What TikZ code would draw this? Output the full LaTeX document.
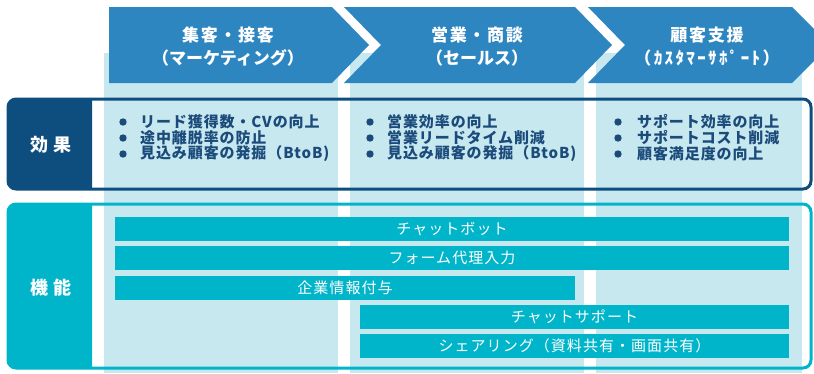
\documentclass[tikz,border=0pt]{standalone}
\usepackage{fontspec}
\usepackage{xcolor}
\newfontfamily\jp{Noto Sans CJK JP}

\definecolor{arrowblue}{HTML}{2E86C1}
\definecolor{colblue}{HTML}{C8E8F0}
\definecolor{navy}{HTML}{0E4E7E}
\definecolor{barteal}{HTML}{00B5C9}
\definecolor{textnavy}{HTML}{1B4B7A}

\begin{document}
\begin{tikzpicture}[x=1pt, y=-1pt,
    hdr/.style={text=white, align=center, inner sep=0,
      font=\jp\bfseries\fontsize{17}{23}\selectfont},
    lbl/.style={text=white, inner sep=0,
      font=\jp\bfseries\fontsize{18}{20}\selectfont},
    item/.style={anchor=west, text=textnavy, inner sep=0,
      font=\jp\bfseries\addfontfeatures{LetterSpace=6}\fontsize{15}{16}\selectfont},
    bar/.style={fill=barteal, text=white, minimum height=24, inner sep=0,
      font=\jp\addfontfeatures{LetterSpace=7}\fontsize{15}{16}\selectfont}]

   \useasboundingbox (0,0) rectangle (814,373);
   \clip (0,0) rectangle (814,373);

    % Light columns behind everything
    \fill[colblue] (104,53) rectangle (338,373);
    \fill[colblue] (350,53) rectangle (584,373);
    \fill[colblue] (596,53) rectangle (802,373);

    % Draw the process arrows
    \fill[arrowblue] (109,7) -- (332,7) -- (369,45) -- (332,83) -- (109,83) -- cycle;
    \fill[arrowblue] (344,7) -- (575,7) -- (612,45) -- (575,83) -- (344,83) -- (381,45) -- cycle;
    \fill[arrowblue] (588,7) -- (792,7) -- (830,45) -- (792,83) -- (588,83) -- (625,45) -- cycle;

    \node[hdr] (stageA) at (228,46.5) {{\addfontfeatures{LetterSpace=10}集客・接客}\\（マーケティング）};
    \node[hdr] (stageB) at (477,46.5) {{\addfontfeatures{LetterSpace=10}営業・商談}\\（セールス）};
    \node[hdr] (stageC) at (707,46.5) {{\addfontfeatures{LetterSpace=10}顧客支援}\\{\addfontfeatures{LetterSpace=14}（ｶｽﾀﾏｰｻﾎﾟｰﾄ）}};

    % Effect row
    \fill[navy] (92,99) {[rounded corners=8] -- (8,99) -- (8,189)} -- (92,189) -- cycle;
    \draw[navy, line width=3, rounded corners=8] (8,99) rectangle (811,189);
    \node[lbl] (effect) at (51,145) {効 果};

    \foreach \y in {122,138,154} {
      \fill[textnavy] (123,\y) circle (3.7);
      \fill[textnavy] (370,\y) circle (3.7);
      \fill[textnavy] (618,\y) circle (3.7);
    }
    \node[item] (effA1) at (140,122) {リード獲得数・CVの向上};
    \node[item] (effA2) at (140,138) {途中離脱率の防止};
    \node[item] (effA3) at (140,154) {見込み顧客の発掘（BtoB)};
    \node[item] (effB1) at (387,122) {営業効率の向上};
    \node[item] (effB2) at (387,138) {営業リードタイム削減};
    \node[item] (effB3) at (387,154) {見込み顧客の発掘（BtoB)};
    \node[item] (effC1) at (637,122) {サポート効率の向上};
    \node[item] (effC2) at (637,138) {サポートコスト削減};
    \node[item] (effC3) at (637,154) {顧客満足度の向上};

    % Function row
    \fill[barteal] (92,204) {[rounded corners=8] -- (8,204) -- (8,368)} -- (92,368) -- cycle;
    \draw[barteal, line width=3, rounded corners=8] (8,204) rectangle (811,368);
    \node[lbl] (func) at (51,288) {機 能};

    \node[bar, minimum width=674] (chatbot) at (452,229) {チャットボット};
    \node[bar, minimum width=674] (formfill) at (452,258) {フォーム代理入力};
    \node[bar, minimum width=460] (company) at (345,288) {企業情報付与};
    \node[bar, minimum width=429] (chatsupport) at (574.5,317) {チャットサポート};
    \node[bar, minimum width=429] (sharing) at (574.5,346) {シェアリング（資料共有・画面共有）};

\end{tikzpicture}
\end{document}
